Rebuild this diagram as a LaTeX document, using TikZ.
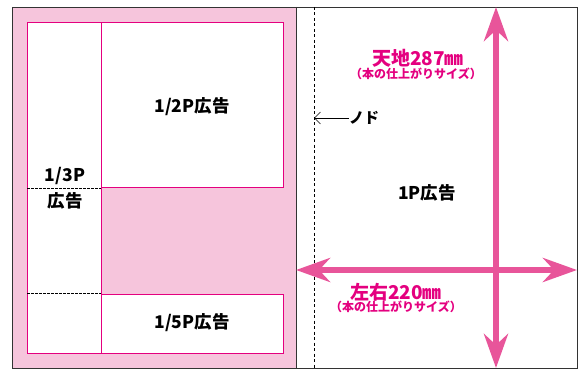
\documentclass[tikz,border=0pt]{standalone}
\usepackage{fontspec}
\newfontfamily\jp{Noto Sans CJK JP}
\usetikzlibrary{arrows.meta}
\definecolor{pagepink}{HTML}{F6C5DC}
\definecolor{adline}{HTML}{E4007F}
\definecolor{dimpink}{HTML}{E8559A}
\definecolor{dimtext}{HTML}{E4007F}
\definecolor{border}{HTML}{333333}

\begin{document}
\begin{tikzpicture}[x=1pt,y=-1pt,
  adbox/.style={draw=adline,fill=white,line width=0.8pt},
  adlabel/.style={font=\jp\bfseries\fontsize{17.5}{17.5}\selectfont,inner sep=0pt},
  dimtitle/.style={text=dimtext,font=\jp\bfseries\fontsize{19}{19}\selectfont,inner sep=0pt},
  dimsub/.style={text=dimtext,font=\jp\bfseries\fontsize{12}{12}\selectfont,inner sep=0pt},
  dimarrow/.style={draw=dimpink,line width=6pt,
    {Stealth[length=34pt,width=24pt,inset=11pt]}-{Stealth[length=34pt,width=24pt,inset=11pt]}}]
\useasboundingbox (0,0) rectangle (579,369);
% left page
\fill[pagepink] (12,7) rectangle (296,368);
\draw[adbox] (27,22) rectangle (101,353);
\draw[adbox] (101,22) rectangle (283,187);
\draw[adbox] (101,294) rectangle (283,353);
\draw[dash pattern=on 2.5pt off 1.5pt,line width=0.6pt] (27,188) -- (101,188);
\draw[dash pattern=on 2.5pt off 1.5pt,line width=0.6pt] (27,293) -- (101,293);
% pages
\draw[border,line width=0.9pt] (12,7) rectangle (577,368);
\draw[border,line width=0.9pt] (296,7) -- (296,368);
\draw[dash pattern=on 3pt off 2.5pt,line width=0.6pt] (314,7) -- (314,368);
% size arrows
\coordinate (top) at (496,7);
\coordinate (bottom) at (496,368);
\coordinate (left) at (296,270);
\coordinate (right) at (577,270);
\draw[dimarrow] (top) -- (bottom);
\draw[dimarrow] (left) -- (right);
% labels
\path
(192,107) node [adlabel](half) {1/2P広告}
(65,176) node [adlabel](third) {1/3P}
(65,201) node [adlabel](thirdb) {広告}
(192,323) node [adlabel](fifth) {1/5P広告}
(427,193) node [adlabel](full) {1P広告}
(349,118) node [adlabel,anchor=west,font=\jp\bfseries\fontsize{15}{15}\selectfont](nodo) {ノド};
\coordinate (gutter) at (314,118);
\draw [-{Straight Barb[length=6pt,width=12pt]},line width=0.6pt](nodo.west) --(gutter);
\node [dimtitle](height) at (418,58) {天地287㎜};
\node [dimsub](heightsub) at (416,74) {（本の仕上がりサイズ）};
\node [dimtitle](width) at (396,292) {左右220㎜};
\node [dimsub](widthsub) at (396,307) {（本の仕上がりサイズ）};
\end{tikzpicture}
\end{document}
